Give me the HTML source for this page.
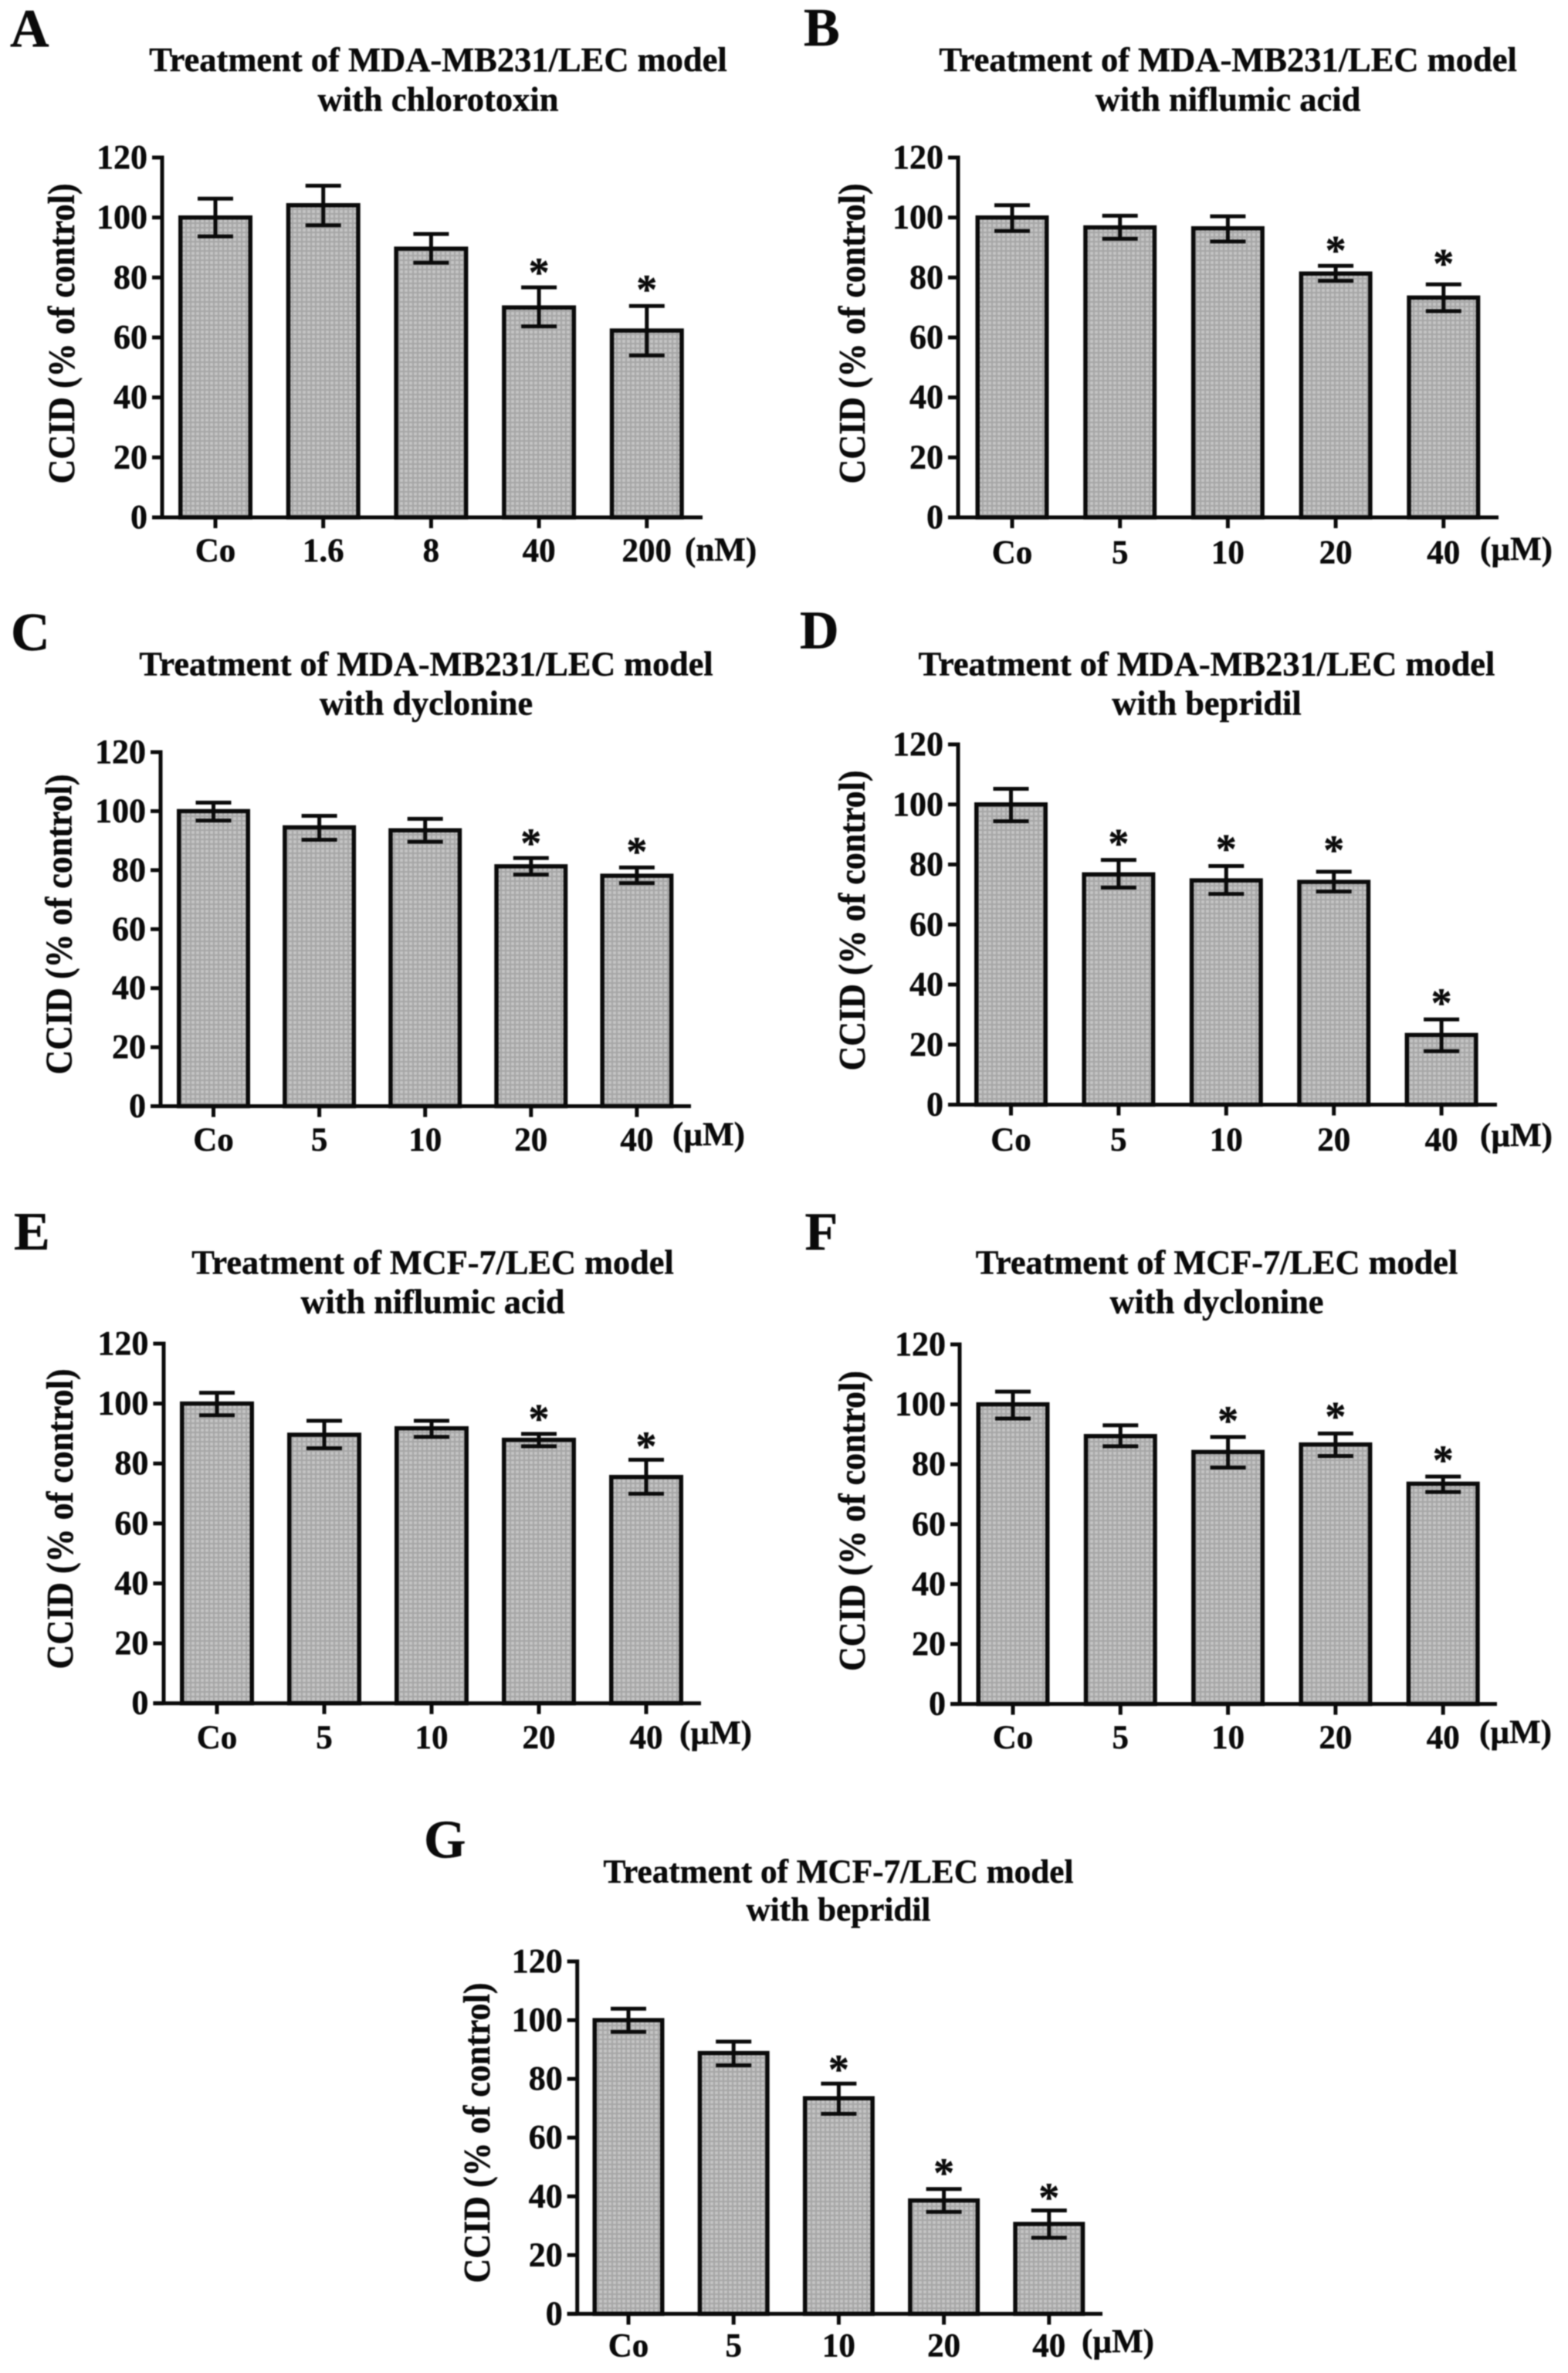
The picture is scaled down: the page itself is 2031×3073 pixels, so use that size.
<!DOCTYPE html>
<html lang="en">
<head>
<meta charset="utf-8">
<title>CCID treatment charts</title>
<style>
html,body{margin:0;padding:0;background:#fff;}
svg{display:block;filter:blur(0.7px);}
text{font-family:"Liberation Serif",serif;font-weight:bold;fill:#0a0a0a;stroke:#0a0a0a;stroke-width:0.45px;}
</style>
</head>
<body>
<svg id="fig" xmlns="http://www.w3.org/2000/svg" width="2031" height="3073" viewBox="0 0 2031 3073">
<defs>
<pattern id="dots" width="6" height="6" patternUnits="userSpaceOnUse">
<rect width="6" height="6" fill="#c4c4c4"></rect>
<rect y="0" width="6" height="2" fill="#a6a6a6"></rect>
<rect x="0" width="2" height="6" fill="#a6a6a6"></rect>
</pattern>
</defs>
</svg>
<script>
const yTickLabels = [0, 20, 40, 60, 80, 100, 120];
const yMax = 120;

const categoriesA = ['Co', '1.6', '8', '40', '200'];
const valuesA = [100, 104.1, 89.6, 70, 62.3];
const errHighA = [106.3, 110.6, 94.5, 76.7, 70.5];
const errLowA = [93.7, 97.4, 84.9, 63.7, 54];
const starsA = [null, null, null, 83.7, 78];

const categoriesB = ['Co', '5', '10', '20', '40'];
const valuesB = [100, 96.7, 96.4, 81.3, 73.3];
const errHighB = [104.1, 100.6, 100.4, 83.9, 77.7];
const errLowB = [95.5, 92.9, 92, 78.9, 68.8];
const starsB = [null, null, null, 91, 86.7];

const categoriesC = ['Co', '5', '10', '20', '40'];
const valuesC = [100, 94.5, 93.5, 81.3, 78.1];
const errHighC = [102.9, 98.4, 97.4, 84.1, 80.9];
const errLowC = [96.8, 90.3, 89.6, 78.5, 75.6];
const starsC = [null, null, null, 91.2, 88.3];

const categoriesD = ['Co', '5', '10', '20', '40'];
const valuesD = [100, 76.7, 74.7, 74.2, 23.2];
const errHighD = [105.2, 81.5, 79.5, 77.6, 28.4];
const errLowD = [94.4, 72.3, 70.2, 71, 17.8];
const starsD = [null, 89, 87.2, 86.8, 35.9];

const categoriesE = ['Co', '5', '10', '20', '40'];
const valuesE = [100, 89.6, 91.75, 87.9, 75.5];
const errHighE = [103.6, 94.25, 94.25, 89.9, 81.25];
const errLowE = [96.1, 85.1, 88.9, 85.75, 69.9];
const starsE = [null, null, null, 97, 87.75];

const categoriesF = ['Co', '5', '10', '20', '40'];
const valuesF = [100, 89.4, 84.1, 86.6, 73.5];
const errHighF = [104.25, 93, 89.1, 90.25, 75.9];
const errLowF = [95.25, 86, 78.9, 82.75, 70.75];
const starsF = [null, null, 96.5, 97.9, 83.4];

const categoriesG = ['Co', '5', '10', '20', '40'];
const valuesG = [100, 88.8, 73.4, 38.6, 30.6];
const errHighG = [103.9, 92.7, 78.4, 42.5, 35.2];
const errLowG = [96, 84.6, 68.1, 34.7, 25.9];
const starsG = [null, null, 85.3, 50, 41.6];

const panels = [
  {id:'a', letter:'A', lx:13, ly:60.6, t1:'Treatment of MDA-MB231/LEC model', t2:'with chlorotoxin', tx:567.5, ty1:92, ty2:143.5, ts:44.5,
   axisX:210, axisL:197, axisR:910, y120:204, y0:670, x0:279, dx:139.7, barW:96, xlabY:727, unit:'(nM)', ux:887, uy:726, yx:96, yc:432,
   cats:categoriesA, vals:valuesA, hi:errHighA, lo:errLowA, stars:starsA},
  {id:'b', letter:'B', lx:1041, ly:59, t1:'Treatment of MDA-MB231/LEC model', t2:'with niflumic acid', tx:1590.6, ty1:92, ty2:143.5, ts:44.5,
   axisX:1241, axisL:1228, axisR:1941, y120:204, y0:670, x0:1311, dx:139.7, barW:95, xlabY:729.5, unit:'(\u00B5M)', ux:1917, uy:725, yx:1120, yc:432,
   cats:categoriesB, vals:valuesB, hi:errHighB, lo:errLowB, stars:starsB},
  {id:'c', letter:'C', lx:14, ly:842, t1:'Treatment of MDA-MB231/LEC model', t2:'with dyclonine', tx:552, ty1:874.5, ty2:925.4, ts:44.2,
   axisX:208, axisL:195, axisR:895, y120:974, y0:1432.5, x0:276.5, dx:137.1, barW:95, xlabY:1490, unit:'(\u00B5M)', ux:871, uy:1483, yx:92.4, yc:1197,
   cats:categoriesC, vals:valuesC, hi:errHighC, lo:errLowC, stars:starsC},
  {id:'d', letter:'D', lx:1036, ly:839.6, t1:'Treatment of MDA-MB231/LEC model', t2:'with bepridil', tx:1563, ty1:874.5, ty2:925.4, ts:44.4,
   axisX:1241, axisL:1228, axisR:1939, y120:964, y0:1430.5, x0:1309.5, dx:139.4, barW:95, xlabY:1490, unit:'(\u00B5M)', ux:1917, uy:1484, yx:1120, yc:1192,
   cats:categoriesD, vals:valuesD, hi:errHighD, lo:errLowD, stars:starsD},
  {id:'e', letter:'E', lx:18, ly:1618, t1:'Treatment of MCF-7/LEC model', t2:'with niflumic acid', tx:560.5, ty1:1649.7, ty2:1700.6, ts:44.3,
   axisX:212, axisL:198.4, axisR:908, y120:1740, y0:2205.7, x0:281, dx:139, barW:96, xlabY:2264, unit:'(\u00B5M)', ux:880, uy:2258, yx:94, yc:1967,
   cats:categoriesE, vals:valuesE, hi:errHighE, lo:errLowE, stars:starsE},
  {id:'f', letter:'F', lx:1042.5, ly:1618, t1:'Treatment of MCF-7/LEC model', t2:'with dyclonine', tx:1576, ty1:1649.7, ty2:1700.6, ts:44.3,
   axisX:1243, axisL:1231, axisR:1939, y120:1741, y0:2206.6, x0:1312, dx:139.3, barW:95, xlabY:2264, unit:'(\u00B5M)', ux:1916, uy:2257, yx:1120, yc:1969.6,
   cats:categoriesF, vals:valuesF, hi:errHighF, lo:errLowF, stars:starsF},
  {id:'g', letter:'G', lx:549, ly:2405.5, t1:'Treatment of MCF-7/LEC model', t2:'with bepridil', tx:1086, ty1:2438, ty2:2487, ts:43.2,
   axisX:747.7, axisL:734.7, axisR:1428, y120:2540, y0:2996.4, x0:814, dx:136.2, barW:93, xlabY:3051.5, unit:'(\u00B5M)', ux:1401, uy:3046, yx:634, yc:2762,
   cats:categoriesG, vals:valuesG, hi:errHighG, lo:errLowG, stars:starsG}
];

const svg = document.getElementById('fig');
const NS = 'http://www.w3.org/2000/svg';
const INK = '#0a0a0a';

function shape(parent, tag, attrs) {
  const el = document.createElementNS(NS, tag);
  for (const k in attrs) el.setAttribute(k, attrs[k]);
  parent.appendChild(el);
  return el;
}
function line(parent, x1, y1, x2, y2, w) {
  return shape(parent, 'line', {x1:x1, y1:y1, x2:x2, y2:y2, stroke:INK, 'stroke-width':w});
}
function label(parent, str, size, attrs) {
  const el = shape(parent, 'text', attrs);
  el.setAttribute('font-size', size);
  el.textContent = str;
  return el;
}

panels.forEach(function (p) {
  const yScale = function (v) { return p.y0 - (v / yMax) * (p.y0 - p.y120); };
  const xScale = function (i) { return p.x0 + i * p.dx; };

  const g = shape(svg, 'g', {});
  
  

  const letter = label(g, p.letter, 70, {x:p.lx, y:p.ly});
  
  

  const t1 = label(g, p.t1, p.ts, {x:p.tx, y:p.ty1, 'text-anchor':'middle'});
  
  

  const t2 = label(g, p.t2, p.ts, {x:p.tx, y:p.ty2, 'text-anchor':'middle'});
  
  

  const yTitle = label(g, 'CCID (% of control)', 44, {transform:'translate(' + p.yx + ',' + p.yc + ') rotate(-90) scale(1,1.1)', 'text-anchor':'middle'});
  
  

  p.cats.forEach(function (cat, i) {
    const cx = xScale(i);
    const sw = 5.5;
    const top = yScale(p.vals[i]);

    const bar = shape(g, 'rect', {x:cx - p.barW / 2 + sw / 2, y:top, width:p.barW - sw, height:p.y0 - top, fill:'url(#dots)', stroke:INK, 'stroke-width':sw});
    
    

    const yHi = yScale(p.hi[i]);
    const yLo = yScale(p.lo[i]);

    const stem = line(g, cx, yHi, cx, yLo, 5);
    
    

    const capHi = line(g, cx - 23, yHi, cx + 23, yHi, 5);
    
    

    const capLo = line(g, cx - 23, yLo, cx + 23, yLo, 5);
    
    

    if (p.stars[i] !== null) {
      const star = label(g, '*', 54, {x:cx, y:yScale(p.stars[i]) + 26, 'text-anchor':'middle'});
      
      
    }

    const tick = line(g, cx, p.y0, cx, p.y0 + 14, 5);
    
    

    const xLab = label(g, cat, 43, {x:cx, y:p.xlabY, 'text-anchor':'middle'});
    
    
  });

  const yAxis = line(g, p.axisX, yScale(yMax) - 2.5, p.axisX, p.y0 + 2, 5);
  
  

  const xAxis = line(g, p.axisL, p.y0, p.axisR, p.y0, 5);
  
  

  yTickLabels.forEach(function (v) {
    const ty = yScale(v);
    const tick = line(g, p.axisL, ty, p.axisX, ty, 5);
    
    

    const tl = label(g, String(v), 44, {x:p.axisL - 6, y:ty + 14, 'text-anchor':'end'});
    
    
  });

  const unit = label(g, p.unit, 43, {x:p.ux, y:p.uy});
  
  
});
</script>
</body>
</html>
